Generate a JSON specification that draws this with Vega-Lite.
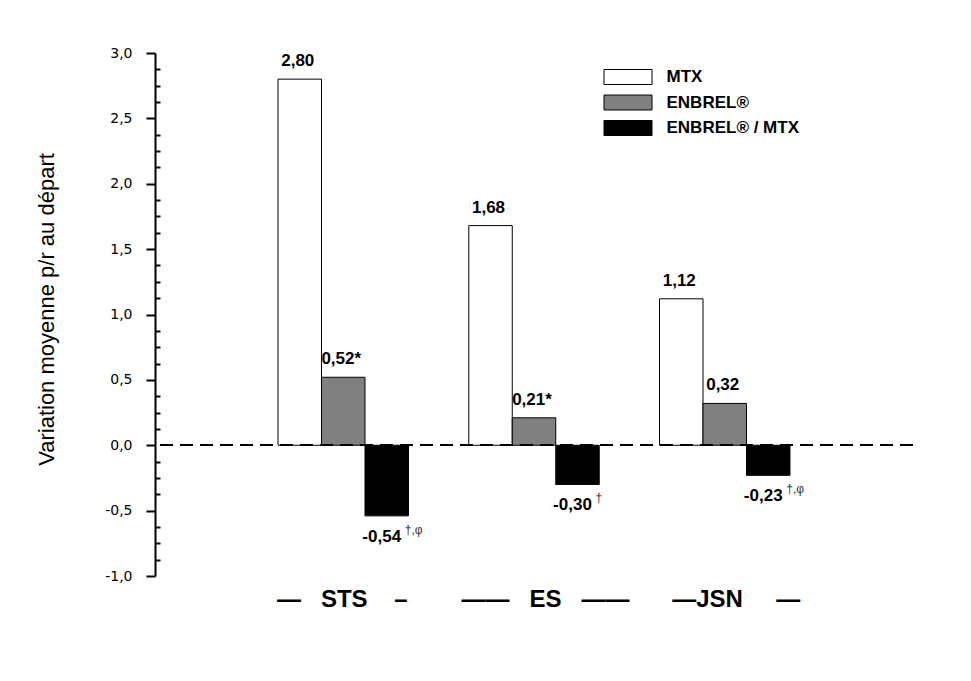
{
  "$schema": "https://vega.github.io/schema/vega-lite/v6.json",
  "width": 758,
  "height": 523,
  "autosize": {"type": "none"},
  "padding": {"left": 155, "top": 53, "right": 58, "bottom": 105},
  "background": "white",
  "config": {
    "font": "Liberation Sans",
    "view": {"stroke": null},
    "axis": {"grid": false, "labelColor": "black", "titleColor": "black", "domainColor": "black", "tickColor": "black"}
  },
  "data": {
    "values": [
      {"group": "STS", "series": "MTX", "value": 2.80, "label": "2,80", "sup": ""},
      {"group": "STS", "series": "ENBREL®", "value": 0.52, "label": "0,52*", "sup": ""},
      {"group": "STS", "series": "ENBREL® / MTX", "value": -0.54, "label": "-0,54", "sup": "†,φ"},
      {"group": "ES", "series": "MTX", "value": 1.68, "label": "1,68", "sup": ""},
      {"group": "ES", "series": "ENBREL®", "value": 0.21, "label": "0,21*", "sup": ""},
      {"group": "ES", "series": "ENBREL® / MTX", "value": -0.30, "label": "-0,30", "sup": "†"},
      {"group": "JSN", "series": "MTX", "value": 1.12, "label": "1,12", "sup": ""},
      {"group": "JSN", "series": "ENBREL®", "value": 0.32, "label": "0,32", "sup": ""},
      {"group": "JSN", "series": "ENBREL® / MTX", "value": -0.23, "label": "-0,23", "sup": "†,φ"}
    ]
  },
  "encoding": {
    "x": {
      "field": "group", "type": "nominal", "sort": ["STS", "ES", "JSN"],
      "scale": {"type": "band", "paddingInner": 0.316, "paddingOuter": 0.645},
      "axis": null
    },
    "xOffset": {
      "field": "series", "type": "nominal", "sort": ["MTX", "ENBREL®", "ENBREL® / MTX"],
      "scale": {"paddingInner": 0, "paddingOuter": 0}
    }
  },
  "layer": [
    {
      "mark": {"type": "bar", "stroke": "black", "strokeWidth": 1},
      "encoding": {
        "y": {
          "field": "value", "type": "quantitative",
          "scale": {"domain": [-1, 3], "nice": false, "zero": false},
          "axis": {
            "orient": "left",
            "values": [-1, -0.5, 0, 0.5, 1, 1.5, 2, 2.5, 3],
            "labelExpr": "replace(replace(format(datum.value, '.1f'), '.', ','), '−', '-')",
            "labelFont": "DejaVu Sans", "labelFontSize": 14, "labelPadding": 14,
            "tickSize": 9, "tickWidth": 2, "domainWidth": 2,
            "title": "Variation moyenne p/r au départ",
            "titleFont": "Liberation Sans",
            "titleFontSize": 22, "titleFontWeight": "normal",
            "titleBaseline": "alphabetic", "titleAlign": "center", "titleAngle": -90,
            "titleX": -102, "titleY": 256
          }
        },
        "fill": {
          "field": "series", "type": "nominal", "sort": ["MTX", "ENBREL®", "ENBREL® / MTX"],
          "scale": {"range": ["#ffffff", "#808080", "#000000"]},
          "legend": {
            "title": null, "orient": "none", "legendX": 464.5, "legendY": 15.5,
            "padding": 0,
            "symbolType": "M-3.2,-1H3.2V1H-3.2Z", "symbolSize": 225,
            "symbolStrokeColor": "black", "symbolStrokeWidth": 1, "symbolOpacity": 1,
            "labelFontSize": 17, "labelFontWeight": "bold", "labelColor": "black",
            "labelOffset": 30, "rowPadding": 6.5, "labelLimit": 300
          }
        }
      }
    },
    {
      "mark": {"type": "rule", "stroke": "black", "strokeWidth": 1.5, "strokeDash": [13, 7]},
      "encoding": {
        "x": null, "xOffset": null,
        "y": {
          "datum": 0, "type": "quantitative",
          "axis": {
            "orient": "left",
            "values": [-0.875, -0.75, -0.625, -0.375, -0.25, -0.125, 0.125, 0.25, 0.375, 0.625, 0.75, 0.875, 1.125, 1.25, 1.375, 1.625, 1.75, 1.875, 2.125, 2.25, 2.375, 2.625, 2.75, 2.875],
            "labels": false, "domain": false, "title": null,
            "tickSize": -5, "tickWidth": 2
          }
        }
      }
    },
    {
      "transform": [{"filter": "datum.value > 0"}],
      "mark": {"type": "text", "fontSize": 17, "fontWeight": "bold", "baseline": "alphabetic", "dy": -13, "dx": -2, "color": "black"},
      "encoding": {
        "y": {"field": "value", "type": "quantitative", "axis": null},
        "text": {"field": "label"}
      }
    },
    {
      "transform": [{"filter": "datum.value < 0"}],
      "mark": {"type": "text", "fontSize": 17, "fontWeight": "bold", "baseline": "alphabetic", "dy": 26, "dx": -5, "color": "black"},
      "encoding": {
        "y": {"field": "value", "type": "quantitative", "axis": null},
        "text": {"field": "label"}
      }
    },
    {
      "transform": [{"filter": "datum.value < 0"}],
      "mark": {"type": "text", "fontSize": 12, "align": "left", "baseline": "alphabetic", "dy": 18, "dx": 18, "color": "#333333"},
      "encoding": {
        "y": {"field": "value", "type": "quantitative", "axis": null},
        "text": {"field": "sup"}
      }
    },
    {
      "transform": [{"filter": "datum.series == 'MTX' && datum.group == 'STS'"}],
      "mark": {"type": "text", "fontSize": 24, "fontWeight": "bold", "baseline": "alphabetic", "dy": 31, "dx": -1, "color": "black"},
      "encoding": {
        "xOffset": null,
        "y": {"datum": -1, "type": "quantitative", "axis": null},
        "text": {"value": "—\u00a0\u00a0\u00a0STS\u00a0\u00a0\u00a0\u00a0–"}
      }
    },
    {
      "transform": [{"filter": "datum.series == 'MTX' && datum.group == 'ES'"}],
      "mark": {"type": "text", "fontSize": 24, "fontWeight": "bold", "baseline": "alphabetic", "dy": 31, "dx": 11.5, "color": "black"},
      "encoding": {
        "xOffset": null,
        "y": {"datum": -1, "type": "quantitative", "axis": null},
        "text": {"value": "——\u00a0\u00a0\u00a0ES\u00a0\u00a0\u00a0——"}
      }
    },
    {
      "transform": [{"filter": "datum.series == 'MTX' && datum.group == 'JSN'"}],
      "mark": {"type": "text", "fontSize": 24, "fontWeight": "bold", "baseline": "alphabetic", "dy": 31, "dx": 11.5, "color": "black"},
      "encoding": {
        "xOffset": null,
        "y": {"datum": -1, "type": "quantitative", "axis": null},
        "text": {"value": "—JSN\u00a0\u00a0\u00a0\u00a0\u00a0—"}
      }
    }
  ],
  "resolve": {"axis": {"y": "independent"}}
}
